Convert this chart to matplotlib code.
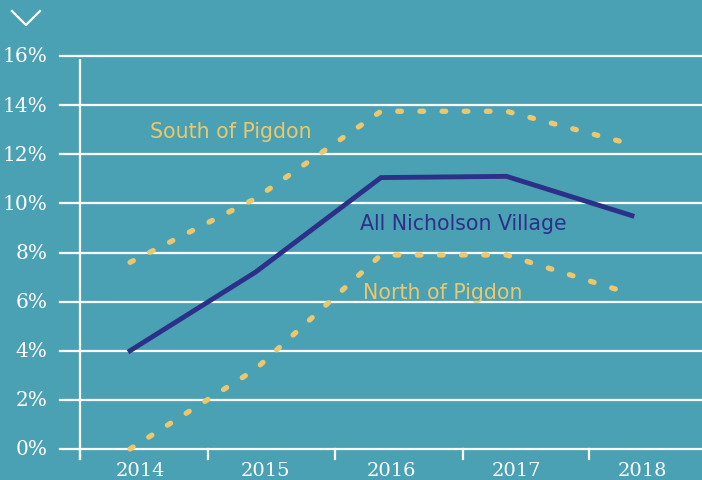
import matplotlib
matplotlib.use("Agg")
import matplotlib.pyplot as plt
from matplotlib.lines import Line2D

years = ["2014", "2015", "2016", "2017", "2018"]
all_village = [4.0, 7.2, 11.05, 11.1, 9.5]
south = [7.6, 10.2, 13.75, 13.75, 12.4]
north = [0.0, 3.25, 7.9, 7.9, 6.3]
yticks = [0, 2, 4, 6, 8, 10, 12, 14, 16]
ytick_labels = [f"{v}%" for v in yticks]

BG = "#4AA1B3"
YEL = "#EBC76D"
BLUE = "#2D3088"
W = 702; H = 481
fig = plt.figure(figsize=(W/100, H/100), dpi=100, facecolor=BG)
ax = fig.add_axes([60/W, (H-450)/H, (702-60)/W, (450-57)/H])
ax.set_facecolor(BG)
ax.set_xlim(-0.558, 4.558)
ax.set_ylim(0, 16)
for s in ax.spines.values():
    s.set_visible(False)
ax.set_xticks([]); ax.set_yticks([])

# gridlines
for v in yticks:
    ax.axhline(v, color="white", lw=1.6, clip_on=False, zorder=1)
# y axis line
ax.plot([-0.398, -0.398], [15.85, -0.42], color="white", lw=1.6, clip_on=False, zorder=1)
# x ticks
for t in [-0.398, 0.62, 1.63, 2.65, 3.66]:
    ax.plot([t, t], [0, -0.42], color="white", lw=1.6, clip_on=False, zorder=1)

x = list(range(len(years)))
dot = dict(color=YEL, lw=3.8, linestyle=(0, (0.7, 3.5)), dash_capstyle="round", zorder=3, clip_on=False)
ax.plot(x, south, **dot)
ax.plot(x, north, **dot)
ax.plot(x, all_village, color=BLUE, lw=3.5, solid_joinstyle="miter", zorder=4, clip_on=False)

# y tick labels
for v, lab in zip(yticks, ytick_labels):
    ax.text(-0.66, v, lab, ha="right", va="center", color="white",
            fontsize=14.5, family="DejaVu Serif", clip_on=False)
# x tick labels
for i, lab in enumerate(years):
    ax.text(i + 0.08, -0.84, lab, ha="center", va="center", color="white",
            fontsize=14, family="DejaVu Serif", clip_on=False)

ax.text(0.16, 12.95, "South of Pigdon", color=YEL, fontsize=14.8, ha="left", va="center")
ax.text(1.83, 9.2, "All Nicholson Village", color=BLUE, fontsize=14.8, ha="left", va="center")
ax.text(1.86, 6.4, "North of Pigdon", color=YEL, fontsize=14.8, ha="left", va="center")

# chevron
fig.add_artist(Line2D([12/W, 26/W, 40/W], [1-12/H, 1-26/H, 1-12/H], color="white", lw=1.6))

fig.savefig("out.png", dpi=100, facecolor=BG)
